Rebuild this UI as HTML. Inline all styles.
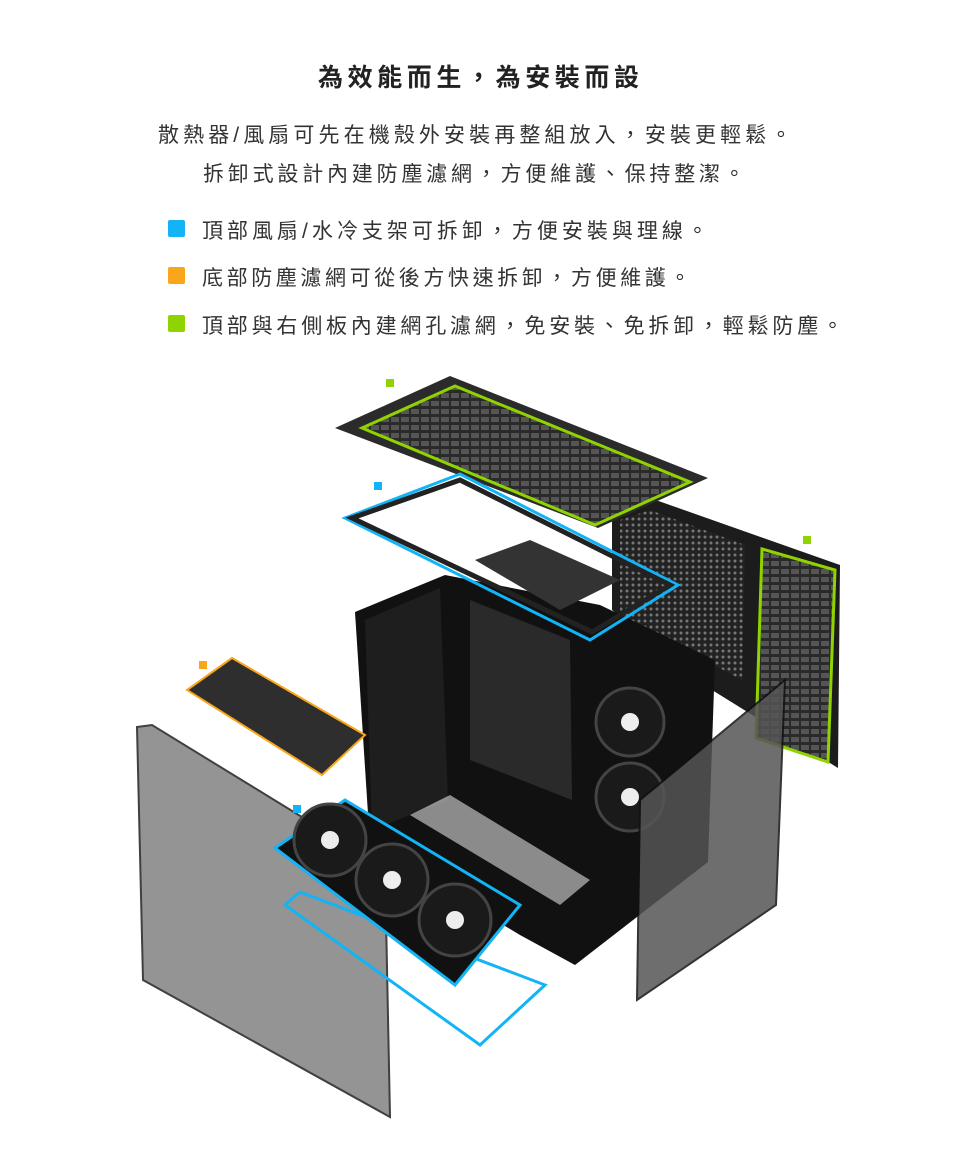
<!DOCTYPE html>
<html><head><meta charset="utf-8"><style>
body{margin:0;width:960px;height:1154px;background:#fff;position:relative;overflow:hidden;font-family:"Liberation Sans","Noto Sans CJK TC",sans-serif;color:#333}
.t{position:absolute;white-space:nowrap}
.sq{position:absolute;width:17px;height:17px;border-radius:2px}
</style></head><body>
<div class="t" style="left:318px;top:58px;font-size:25px;font-weight:bold;letter-spacing:4.6px;color:#222">為效能而生，為安裝而設</div>
<div class="t" style="left:158px;top:119px;font-size:21px;letter-spacing:4.1px">散熱器/風扇可先在機殼外安裝再整組放入，安裝更輕鬆。</div>
<div class="t" style="left:203px;top:158px;font-size:21px;letter-spacing:3.8px">拆卸式設計內建防塵濾網，方便維護、保持整潔。</div>
<div class="sq" style="left:168px;top:220px;background:#12b4f5"></div>
<div class="t" style="left:202px;top:215px;font-size:21px;letter-spacing:4.0px">頂部風扇/水冷支架可拆卸，方便安裝與理線。</div>
<div class="sq" style="left:168px;top:267px;background:#f9a61a"></div>
<div class="t" style="left:202px;top:262px;font-size:21px;letter-spacing:3.6px">底部防塵濾網可從後方快速拆卸，方便維護。</div>
<div class="sq" style="left:168px;top:315px;background:#8fd400"></div>
<div class="t" style="left:202px;top:310px;font-size:21px;letter-spacing:3.8px">頂部與右側板內建網孔濾網，免安裝、免拆卸，輕鬆防塵。</div>
<svg style="position:absolute;left:0;top:0" width="960" height="1154">
<defs>
<pattern id="mesh" width="6" height="6" patternUnits="userSpaceOnUse"><rect width="6" height="6" fill="#222"/><circle cx="3" cy="3" r="1.5" fill="#777"/></pattern>
<pattern id="grill" width="10" height="8" patternUnits="userSpaceOnUse"><rect width="10" height="8" fill="#2a2a2a"/><rect x="1" y="1" width="8" height="5" fill="#555"/></pattern>
</defs>
<polygon points="612,512 650,498 840,565 838,768 712,690 612,610" fill="#1c1c1c"/>
<polygon points="620,520 650,510 745,545 742,680 620,615" fill="url(#mesh)"/>
<polygon points="762,549 835,570 828,762 756,738" fill="url(#grill)" stroke="#8fd400" stroke-width="3"/>
<polygon points="355,612 445,575 600,605 715,660 708,862 575,965 520,935 370,845" fill="#111"/>
<polygon points="365,620 440,588 448,800 372,830" fill="#1e1e1e"/>
<polygon points="470,600 570,640 572,800 470,760" fill="#2a2a2a"/>
<polygon points="410,815 450,795 590,880 560,905" fill="#ddd" opacity="0.6"/>
<polygon points="475,560 530,540 620,580 560,610" fill="#333"/>
<circle cx="630" cy="722" r="34" fill="#1a1a1a" stroke="#444" stroke-width="3"/><circle cx="630" cy="722" r="9" fill="#eee"/>
<circle cx="630" cy="797" r="34" fill="#1a1a1a" stroke="#444" stroke-width="3"/><circle cx="630" cy="797" r="9" fill="#eee"/>
<polygon points="335,428 450,376 708,478 598,528" fill="#2b2b2b"/>
<polygon points="362,428 455,386 690,482 595,525" fill="url(#grill)" stroke="#8fd400" stroke-width="3"/>
<polygon points="345,518 460,474 678,585 590,640" fill="none" stroke="#12b4f5" stroke-width="3"/>
<polygon points="352,518 460,480 670,585 592,632" fill="none" stroke="#222" stroke-width="5"/>
<polygon points="187,690 232,658 365,735 322,775" fill="#2e2e2e" stroke="#f9a61a" stroke-width="2"/>
<polygon points="137,727 152,725 385,868 390,1117 143,980" fill="#7a7a7a" opacity="0.8" stroke="#111" stroke-width="2"/>
<polygon points="640,800 785,680 776,905 637,1000" fill="#555" opacity="0.85" stroke="#111" stroke-width="2"/>
<polygon points="285,905 300,892 545,985 480,1045" fill="none" stroke="#12b4f5" stroke-width="3"/>
<polygon points="275,848 345,800 520,905 455,985" fill="#111" stroke="#12b4f5" stroke-width="3"/>
<circle cx="330" cy="840" r="36" fill="#1a1a1a" stroke="#444" stroke-width="3"/><circle cx="330" cy="840" r="9" fill="#eee"/>
<circle cx="392" cy="880" r="36" fill="#1a1a1a" stroke="#444" stroke-width="3"/><circle cx="392" cy="880" r="9" fill="#eee"/>
<circle cx="455" cy="920" r="36" fill="#1a1a1a" stroke="#444" stroke-width="3"/><circle cx="455" cy="920" r="9" fill="#eee"/>
<rect x="386" y="379" width="8" height="8" fill="#8fd400"/>
<rect x="374" y="482" width="8" height="8" fill="#12b4f5"/>
<rect x="803" y="536" width="8" height="8" fill="#8fd400"/>
<rect x="199" y="661" width="8" height="8" fill="#f9a61a"/>
<rect x="293" y="805" width="8" height="8" fill="#12b4f5"/>
</svg>
</body></html>
